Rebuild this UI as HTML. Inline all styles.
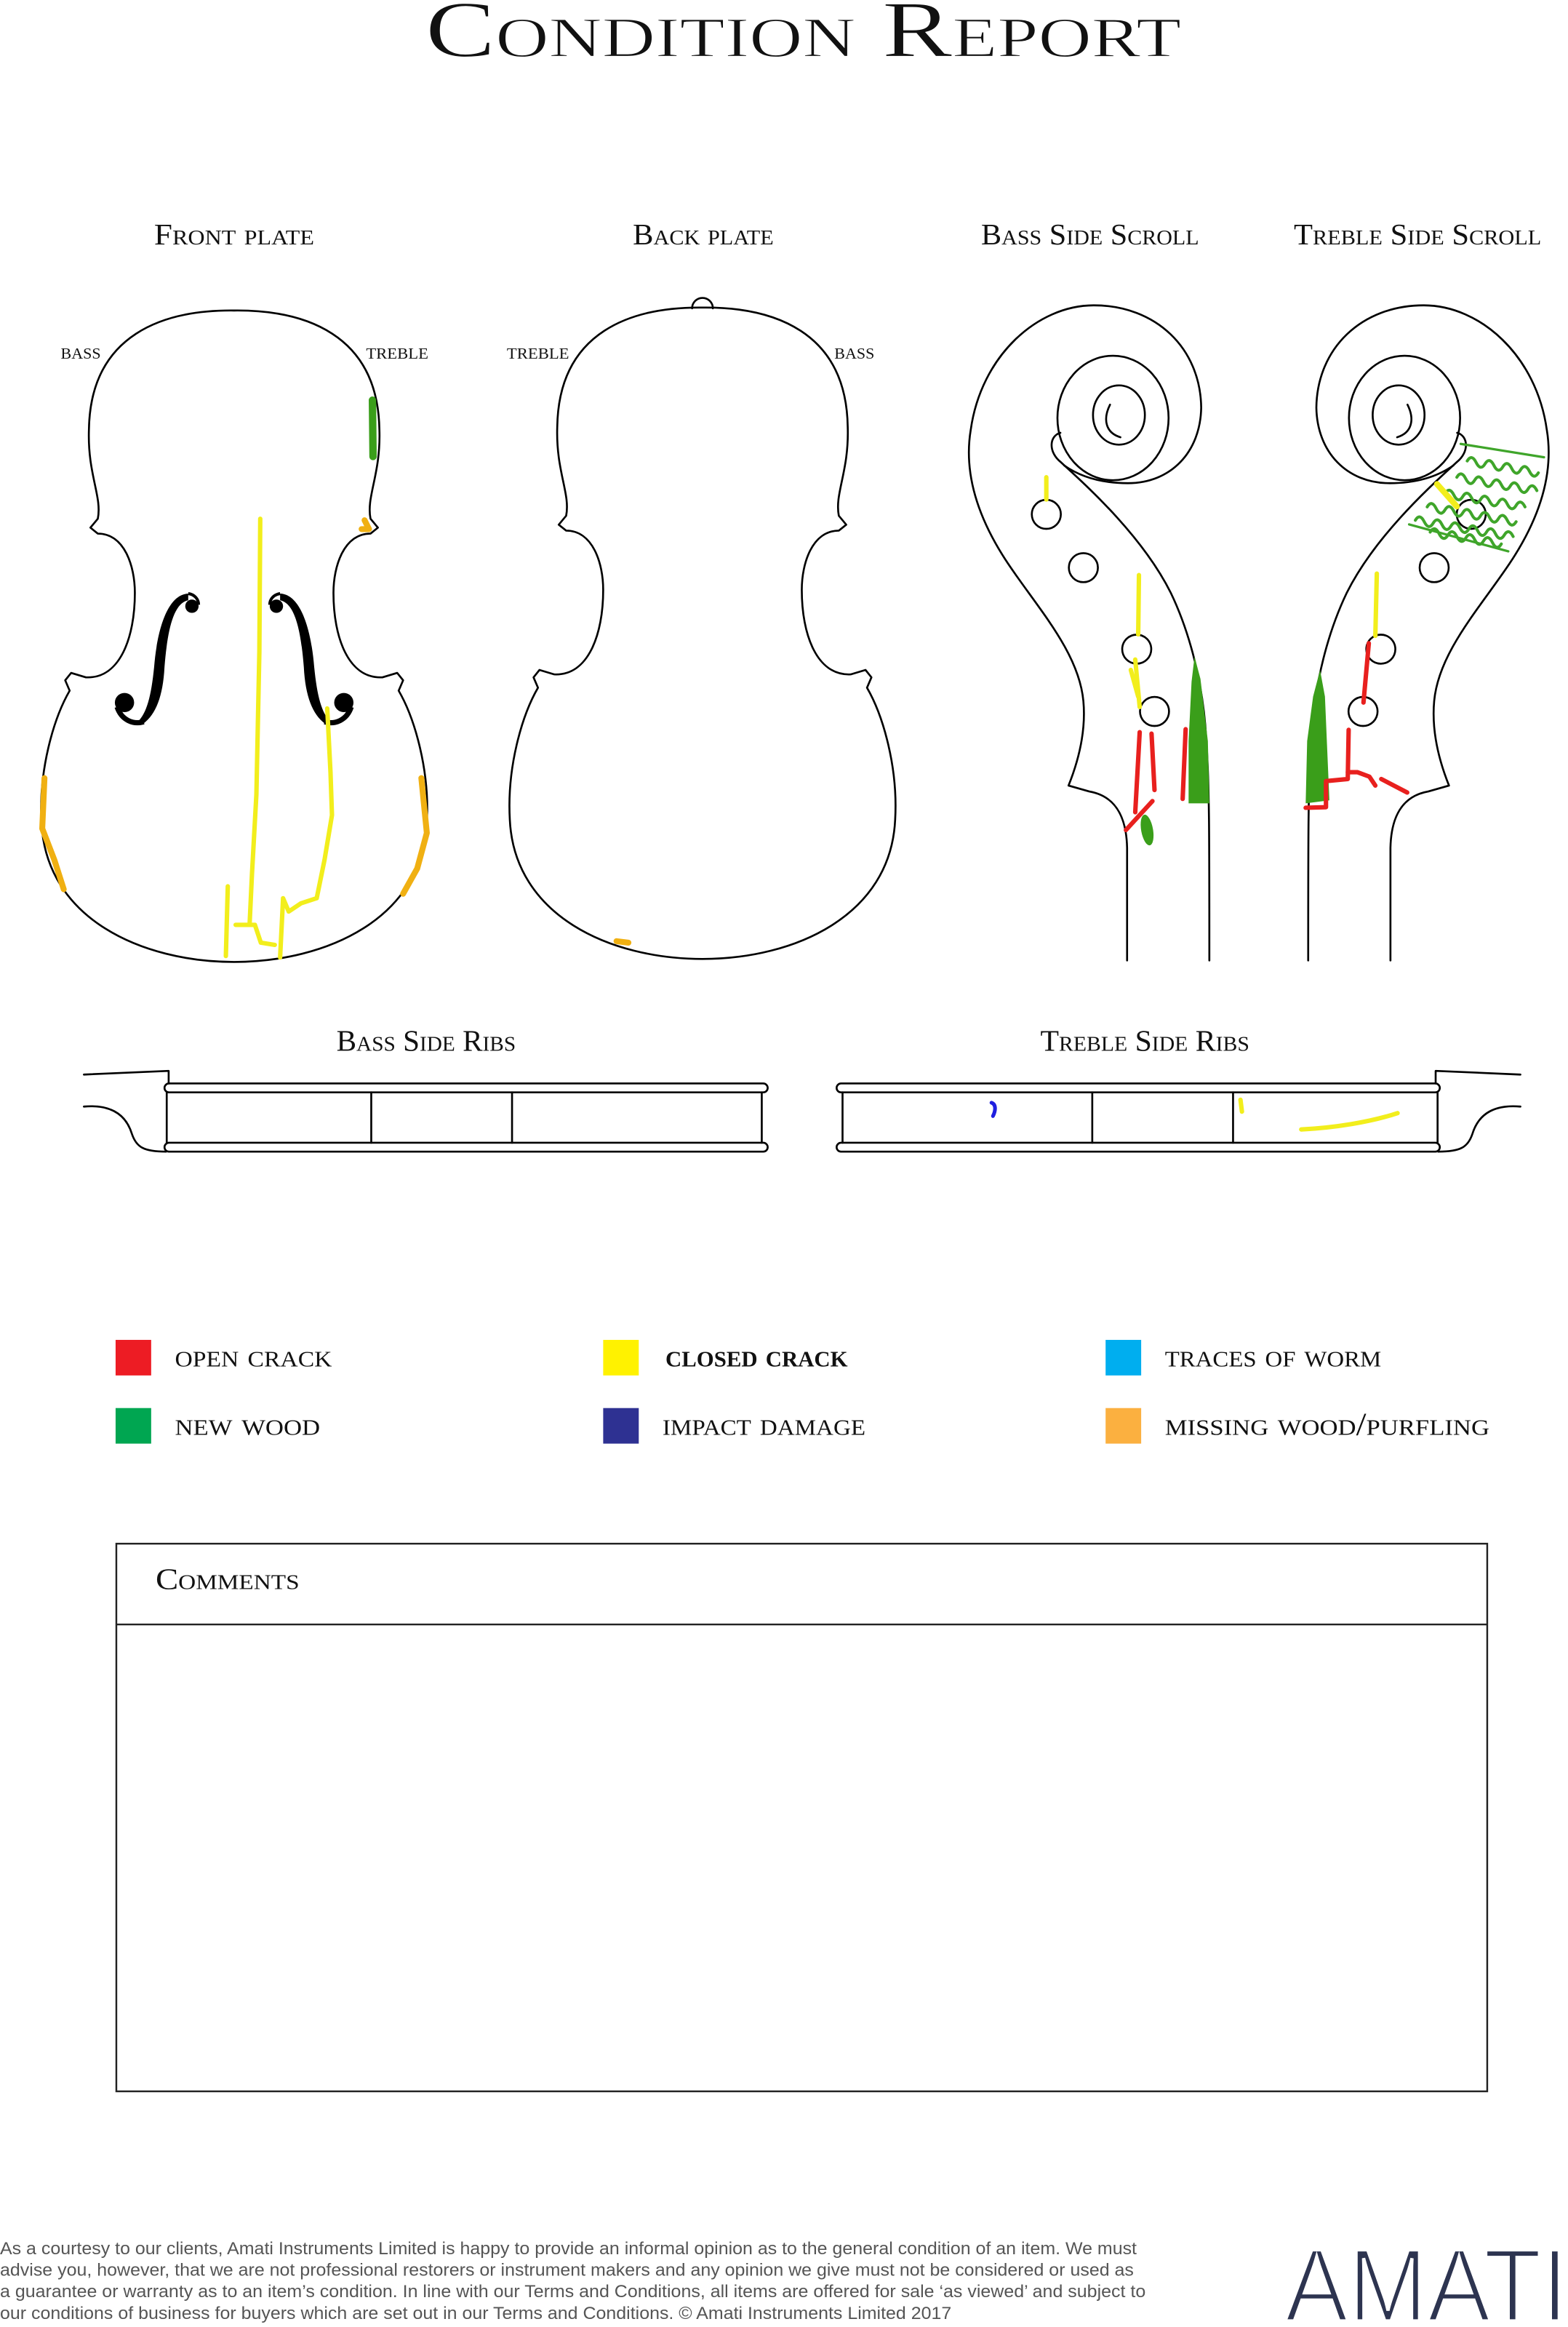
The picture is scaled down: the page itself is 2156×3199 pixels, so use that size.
<!DOCTYPE html>
<html><head><meta charset="utf-8"><style>
html,body{margin:0;padding:0;background:#fff;}
svg{display:block;}
.sc{font-family:"Liberation Serif",serif;font-variant:small-caps;fill:#111;}
.o{fill:none;stroke:#000;stroke-width:1.3;stroke-linejoin:round;stroke-linecap:round;}
.y{fill:none;stroke:#f2ee1c;stroke-width:3;stroke-linecap:round;stroke-linejoin:round;}
.r{fill:none;stroke:#e8201e;stroke-width:3;stroke-linecap:round;stroke-linejoin:round;}
.g{fill:none;stroke:#3fa52a;stroke-width:2;stroke-linecap:round;}
.or{fill:none;stroke:#f0b012;stroke-width:4;stroke-linecap:round;stroke-linejoin:round;}
.ft{font-family:"Liberation Sans",sans-serif;font-size:11.6px;fill:#555;}
</style></head><body>
<svg width="2156" height="3199" viewBox="0 0 1058 1570" preserveAspectRatio="none" xmlns="http://www.w3.org/2000/svg">
<rect width="1058" height="1570" fill="#fff"/>
<text class="sc" x="287" y="38" font-size="54" textLength="510" lengthAdjust="spacingAndGlyphs" stroke="#fff" stroke-width="0.6">Condition Report</text>

<text class="sc" x="104" y="165" font-size="20" textLength="108" lengthAdjust="spacingAndGlyphs">Front plate</text>
<text class="sc" x="427" y="165" font-size="20" textLength="95" lengthAdjust="spacingAndGlyphs">Back plate</text>
<text class="sc" x="662" y="165" font-size="20" textLength="147" lengthAdjust="spacingAndGlyphs">Bass Side Scroll</text>
<text class="sc" x="873" y="165" font-size="20" textLength="167" lengthAdjust="spacingAndGlyphs">Treble Side Scroll</text>

<text class="sc" x="41" y="242" font-size="15" textLength="27" lengthAdjust="spacingAndGlyphs">bass</text>
<text class="sc" x="247" y="242" font-size="15" textLength="42" lengthAdjust="spacingAndGlyphs">treble</text>
<text class="sc" x="342" y="242" font-size="15" textLength="42" lengthAdjust="spacingAndGlyphs">treble</text>
<text class="sc" x="563" y="242" font-size="15" textLength="27" lengthAdjust="spacingAndGlyphs">bass</text>

<!-- Front plate -->
<path id="body" class="o" d="M158,209.5 C205,209 255,225 256,290 C257,320 247,335 250,350 L255,356 L250,360 C232,360 225,382 225,400 C225,430 235,458 258,457 L268,454 L272,459 L269,466 C280,485 290,520 288,555 C285,620 220,649 158,649 C96,649 31,620 28,555 C26,520 36,485 47,466 L44,459 L48,454 L58,457 C81,458 91,430 91,400 C91,382 84,360 66,360 L61,356 L66,350 C69,335 59,320 60,290 C61,225 111,209 158,209.5 Z"/>
<!-- f holes -->
<g id="fh" fill="#000">
<path d="M127,400.5 C113,401 106,425 104,450 C102,470 99,481 93,487 L97,488 C105,482 110,470 111,450 C113,425 117,407 127,405 Z"/>
<circle cx="129.5" cy="409" r="4.5"/>
<path d="M127,400.5 C131,401 134,404 134,408" fill="none" stroke="#000" stroke-width="2"/>
<circle cx="84" cy="474" r="6.5"/>
<path d="M79,477 C82,486 90,489 97,487" fill="none" stroke="#000" stroke-width="3.5"/>
</g>
<use href="#fh" transform="translate(316,0) scale(-1,1)"/>
<!-- front damage -->
<path class="y" stroke-width="2.5" d="M175.6,350 L175,440 L173,536 L170,590 L168.4,624"/>
<path class="y" d="M153.7,598 L152.4,645"/>
<path class="y" stroke-width="2.5" d="M159,624 L172,624 L176,636 L185.4,637.5"/>
<path class="y" d="M220.8,478 L223,521 L224,550 L219,580 L213.7,606 L203,609.5 L194.8,615 L191,606 L189,646"/>
<path d="M251.3,270 L251.7,308" stroke="#3a9e1a" stroke-width="5" stroke-linecap="round"/>
<path class="or" stroke-width="4" d="M246,351 L249,357 L244,357"/>
<path class="or" d="M30,525 L28.5,559 L36.6,580 L43,600"/>
<path class="or" d="M284.3,525 L288,562 L281.5,586 L272,603"/>

<!-- Back plate -->
<use href="#body" transform="translate(316,-2)"/>
<path class="o" d="M467,208 A7,7 0 0 1 481,208"/>
<path d="M416,635 L424,636" stroke="#f0b012" stroke-width="4" stroke-linecap="round"/>

<!-- Bass side scroll -->
<g id="scroll" class="o">
<path d="M760.5,648 L760.5,572 C760,550 752,537 735,534 L721,530 C727,515 733,495 731,473 C728,440 700,410 680,380 C660,350 650,320 655,290 C662,240 700,206 738,206 C780,206 810,235 810.5,275 C810,305 790,326 761,326 C742,326 728,321 718,314"/>
<ellipse cx="751" cy="282" rx="37.5" ry="42"/>
<ellipse cx="755" cy="280" rx="17.5" ry="20"/>
<path d="M749,273 C744,283 746,292 756,295"/>
<path d="M715.5,292 C708,294 707,305 716,312 C730,325 770,360 790,400 C802,425 812,460 814,500 C816,530 816,560 816,648"/>
<circle cx="706" cy="347" r="9.8"/>
<circle cx="731" cy="383" r="9.8"/>
<circle cx="767" cy="438" r="9.8"/>
<circle cx="779" cy="480" r="9.8"/>
</g>
<path class="y" d="M706,322 L706,337"/>
<path class="y" d="M768.5,388 L768,428"/>
<path class="y" d="M766,445 L769,477 M763,452 L768,470"/>
<path class="r" stroke-width="2.5" d="M769,494 L766,548 M777,495 L779,533 M800,492 L798,539 M759.7,560 L777.6,540.5"/>
<polygon points="806,443 810,458 815,500 816,542 802,542 802,500 804,460" fill="#3a9e1a"/>
<ellipse cx="774" cy="560" rx="4" ry="10.5" transform="rotate(-10 774 560)" fill="#3a9e1a"/>

<!-- Treble side scroll (mirror) -->
<use href="#scroll" transform="translate(1698.7,0) scale(-1,1)"/>
<g class="g">
<path d="M985.6,299.5 L1041.8,308.5 M1017.7,372 L950.8,353.8" stroke-width="1.6"/>
<path d="M990,311 q3,-5 6,1 t6,1 t6,1 t6,1 t6,1 t6,1 t6,1 t6,1"/>
<path d="M983,322 q3,-5 6,1 t6,1 t6,1 t6,1 t6,1 t6,1 t6,1 t6,1 t6,1"/>
<path d="M975,333 q3,-5 6,1 t6,1 t6,1 t6,1 t6,1 t6,1 t6,1 t6,1 t6,1"/>
<path d="M963,342 q3,-5 6,1 t6,1 t6,1 t6,1 t6,1 t6,1 t6,1 t6,1 t6,1 t6,1"/>
<path d="M955,351 q3,-5 6,1 t6,1 t6,1 t6,1 t6,1 t6,1 t6,1 t6,1 t6,1 t6,1 t6,1"/>
<path d="M965,359 q3,-5 6,1 t6,1 t6,1 t6,1 t6,1 t6,1 t6,1 t6,1"/>
</g>
<path d="M969.6,326.6 L983,341.7" stroke="#f2ee1c" stroke-width="4" stroke-linecap="round"/>
<path class="y" d="M929,387 L928,429"/>
<path class="r" d="M923.6,434 L920,474"/>
<polygon points="890.7,452 894,470 897,540 881,542 882,500 886,470" fill="#3a9e1a"/>
<path class="r" d="M881,545 L894.7,544.6 L894.7,527 L909.4,525.6 L910,492.4 M909.4,521 L916,521 L924,524 L928,530 M932,525.6 L949.5,534.7"/>

<!-- Ribs -->
<text class="sc" x="227" y="709" font-size="20" textLength="121" lengthAdjust="spacingAndGlyphs">Bass Side Ribs</text>
<text class="sc" x="702" y="709" font-size="20" textLength="141" lengthAdjust="spacingAndGlyphs">Treble Side Ribs</text>
<g id="ribs" class="o">
<path d="M114,731 L515,731 A3,3 0 0 1 515,737 L114,737 A3,3 0 0 1 114,731 Z"/>
<path d="M114,771 L515,771 A3,3 0 0 1 515,777 L114,777 A3,3 0 0 1 114,771 Z"/>
<path d="M112.5,737 L112.5,771 M514,737 L514,771 M250.5,737 L250.5,771 M345.5,737 L345.5,771"/>
<path d="M56.6,725 L113.8,722.5 L113.8,731"/>
<path d="M56.6,746.6 C75,745 85,752 89,765 C92,774 97,777 112,777"/>
</g>
<use href="#ribs" transform="translate(1082.5,0) scale(-1,1)"/>
<path d="M669,744 C672,745 672,749 670,753" stroke="#2020e0" stroke-width="2.5" fill="none" stroke-linecap="round"/>
<path class="y" stroke-width="2" d="M837,742 L838,750"/>
<path class="y" stroke-width="2.5" d="M878,762 C900,761 925,757 943,751"/>

<!-- Legend -->
<rect x="78" y="904" width="24" height="24" fill="#ed1c24"/>
<rect x="78" y="950" width="24" height="24" fill="#00a651"/>
<rect x="407" y="904" width="24" height="24" fill="#fff200"/>
<rect x="407" y="950" width="24" height="24" fill="#2e3192"/>
<rect x="746" y="904" width="24" height="24" fill="#00aeef"/>
<rect x="746" y="950" width="24" height="24" fill="#fbb040"/>
<text class="sc" x="118" y="922" font-size="22" textLength="106" lengthAdjust="spacingAndGlyphs">open crack</text>
<text class="sc" x="118" y="968" font-size="22" textLength="98" lengthAdjust="spacingAndGlyphs">new wood</text>
<text class="sc" x="449" y="922" font-size="22" font-weight="bold" textLength="123" lengthAdjust="spacingAndGlyphs">closed crack</text>
<text class="sc" x="447" y="968" font-size="22" textLength="137" lengthAdjust="spacingAndGlyphs">impact damage</text>
<text class="sc" x="786" y="922" font-size="22" textLength="146" lengthAdjust="spacingAndGlyphs">traces of worm</text>
<text class="sc" x="786" y="968" font-size="22" textLength="219" lengthAdjust="spacingAndGlyphs">missing wood/purfling</text>

<!-- Comments -->
<rect x="78.5" y="1041.5" width="925" height="369.5" fill="none" stroke="#222" stroke-width="1.2"/>
<line x1="78.5" y1="1096" x2="1003.5" y2="1096" stroke="#222" stroke-width="1.2"/>
<text class="sc" x="105" y="1072" font-size="20" textLength="97" lengthAdjust="spacingAndGlyphs">Comments</text>

<!-- Footer -->
<text class="ft" x="0" y="1521" textLength="767" lengthAdjust="spacingAndGlyphs">As a courtesy to our clients, Amati Instruments Limited is happy to provide an informal opinion as to the general condition of an item. We must</text>
<text class="ft" x="0" y="1535.5" textLength="765" lengthAdjust="spacingAndGlyphs">advise you, however, that we are not professional restorers or instrument makers and any opinion we give must not be considered or used as</text>
<text class="ft" x="0" y="1550" textLength="773" lengthAdjust="spacingAndGlyphs">a guarantee or warranty as to an item’s condition. In line with our Terms and Conditions, all items are offered for sale ‘as viewed’ and subject to</text>
<text class="ft" x="0" y="1564.5" textLength="642" lengthAdjust="spacingAndGlyphs">our conditions of business for buyers which are set out in our Terms and Conditions. © Amati Instruments Limited 2017</text>
<text x="867" y="1566" font-family="Liberation Sans, sans-serif" font-size="70" fill="#2d3450" stroke="#fff" stroke-width="2.4" textLength="191" lengthAdjust="spacingAndGlyphs">AMATI</text>
</svg>
</body></html>
